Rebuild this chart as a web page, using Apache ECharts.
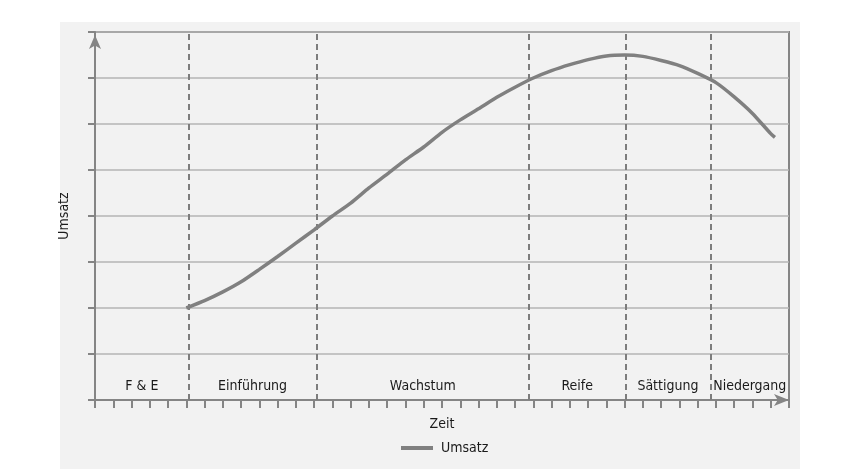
<!DOCTYPE html>
<html>
<head>
<meta charset="utf-8">
<script src="https://cdn.jsdelivr.net/npm/echarts@6/dist/echarts.min.js"></script>
<style>
html,body{margin:0;padding:0;background:#ffffff;}
#chart{width:862px;height:469px;}
</style>
</head>
<body>
<div id="chart"></div>
<script>
// Time positions (tick units) and sales values
const timeX = [5,6,7,8,9,10,11,12,13,14,15,16,17,18,19,20,21,22,23,24,25,26,27,28,29,30,31,32,33,34,35,36,37,37.23];
const umsatz = [2.0,2.16,2.35,2.57,2.84,3.12,3.41,3.70,4.00,4.28,4.61,4.91,5.22,5.50,5.82,6.09,6.33,6.58,6.80,7.00,7.16,7.29,7.40,7.48,7.50,7.47,7.38,7.27,7.10,6.90,6.59,6.23,5.79,5.71];
// Phase names and their boundaries on the time axis
const phases = ['F & E','Einführung','Wachstum','Reife','Sättigung','Niedergang'];
const phaseBounds = [0,5.13,12.13,23.77,29.04,33.7,38];
const seriesName = 'Umsatz';
const yName = 'Umsatz';
const xName = 'Zeit';

const FONT = "'Liberation Sans Narrow','DejaVu Sans Condensed','Arial Narrow',sans-serif";
const AX = '#858585';

const chart = echarts.init(document.getElementById('chart'), null, {renderer:'canvas'});

const lineData = timeX.map((x,i)=>[x, umsatz[i]]);
const areas = phases.map((p,i)=>[{xAxis: phaseBounds[i], name: p},{xAxis: phaseBounds[i+1]}]);
const dividers = phaseBounds.slice(1, -1).map(b=>({xAxis:b}));

chart.setOption({
  backgroundColor: '#ffffff',
  animation: false,
  graphic: [{
    type:'rect', z:-10, silent:true,
    shape:{x:60, y:22, width:740, height:447},
    style:{fill:'#f2f2f2'}
  }],
  textStyle:{fontFamily:FONT},
  grid:{left:95, right:73, top:32, bottom:69, show:true, borderColor:AX, borderWidth:2, backgroundColor:'transparent'},
  legend:{
    bottom:9, left:396, data:[seriesName],
    itemWidth:32, itemHeight:4, icon:'rect', itemGap:10,
    textStyle:{fontFamily:FONT, fontSize:14, color:'#1a1a1a', padding:[0,0,0,3]}
  },
  xAxis:{
    type:'value', min:0, max:38, interval:1,
    name:xName, nameLocation:'middle', nameGap:17,
    nameTextStyle:{fontFamily:FONT, fontSize:14, color:'#1a1a1a', verticalAlign:'top'},
    axisLine:{show:true, lineStyle:{color:AX, width:2}, symbol:['none','arrow'], symbolSize:[9,15]},
    axisTick:{show:true, length:8, lineStyle:{color:AX, width:2}},
    axisLabel:{show:false},
    splitLine:{show:false}
  },
  yAxis:{
    type:'value', min:0, max:8, interval:1,
    name:yName, nameLocation:'middle', nameGap:24, nameRotate:90,
    nameTextStyle:{fontFamily:FONT, fontSize:14, color:'#1a1a1a'},
    axisLine:{show:true, lineStyle:{color:AX, width:2}, symbol:['none','arrow'], symbolSize:[9,14], symbolOffset:[0,-3]},
    axisTick:{show:true, length:7, lineStyle:{color:AX, width:2}},
    axisLabel:{show:false},
    splitLine:{show:true, lineStyle:{color:'#b4b4b4', width:1.5}}
  },
  series:[{
    name:seriesName, type:'line', data:lineData, symbol:'none', smooth:0.2,
    lineStyle:{color:'#808080', width:3.5}, itemStyle:{color:'#808080'},
    z:5,
    markLine:{
      silent:true, symbol:['none','none'],
      label:{show:false},
      lineStyle:{color:'#7d7d7d', type:[6,4], width:2},
      data:dividers
    },
    markArea:{
      silent:true,
      itemStyle:{color:'rgba(0,0,0,0)'},
      label:{show:true, position:'insideBottom', distance:7, fontFamily:FONT, fontSize:14, color:'#1a1a1a'},
      data:areas
    }
  }]
});
</script>
</body>
</html>
